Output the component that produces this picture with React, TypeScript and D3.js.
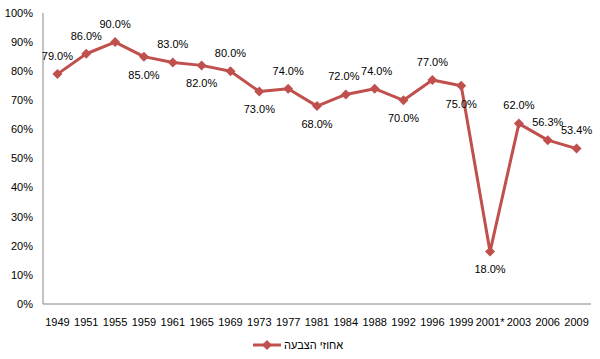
import React from "react";
import * as d3 from "d3";

const years = ["1949", "1951", "1955", "1959", "1961", "1965", "1969", "1973", "1977", "1981", "1984", "1988", "1992", "1996", "1999", "2001*", "2003", "2006", "2009"];
const turnout = [79.0, 86.0, 90.0, 85.0, 83.0, 82.0, 80.0, 73.0, 74.0, 68.0, 72.0, 74.0, 70.0, 77.0, 75.0, 18.0, 62.0, 56.3, 53.4];
// label above (1) or below (-1) the point
const labelSide = [1, 1, 1, -1, 1, -1, 1, -1, 1, -1, 1, 1, -1, 1, -1, -1, 1, 1, 1];
const yTicks = [0, 10, 20, 30, 40, 50, 60, 70, 80, 90, 100];
const seriesName = "אחוזי הצבעה";

const W = 600;
const H = 359;
const margin = { top: 13, right: 9, bottom: 55, left: 43 };
const color = "#C0504D";
const font = "'Liberation Sans', Arial, sans-serif";

const App = () => {
  const x = d3
    .scaleBand<string>()
    .domain(years)
    .range([margin.left, W - margin.right]);
  const y = d3
    .scaleLinear()
    .domain([0, 100])
    .range([H - margin.bottom, margin.top]);

  const cx = (i: number) => (x(years[i]) as number) + x.bandwidth() / 2;

  const line = d3
    .line<number>()
    .x((_, i) => cx(i))
    .y((d) => y(d));

  const r = 5;
  const diamond = `M0,${-r}L${r},0L0,${r}L${-r},0Z`;

  // nudge the two crowded labels (1984 / 1988) apart a little
  const nudge = (i: number) => (i === 10 ? -2 : i === 11 ? 2 : 0);

  return (
    <svg width={W} height={H} style={{ position: "absolute", left: 0, top: 0 }} fontFamily={font}>
      <rect width={W} height={H} fill="#fff" />
      {/* axes */}
      <line x1={margin.left} x2={margin.left} y1={margin.top} y2={y(0)} stroke="#868686" />
      <line x1={margin.left} x2={W - margin.right} y1={y(0)} y2={y(0)} stroke="#868686" />
      {yTicks.map((t) => (
        <text key={t} x={33} y={y(t)} dy="0.35em" textAnchor="end" fontSize={11} fill="#000">
          {t}%
        </text>
      ))}
      {years.map((yr, i) => (
        <text key={yr} x={cx(i)} y={y(0) + 18} dy="0.35em" textAnchor="middle" fontSize={11} fill="#000">
          {yr}
        </text>
      ))}
      <path d={line(turnout) as string} fill="none" stroke={color} strokeWidth={3} strokeLinejoin="round" />
      {turnout.map((v, i) => (
        <path key={i} d={diamond} transform={`translate(${cx(i)},${y(v)})`} fill={color} />
      ))}
      {turnout.map((v, i) => (
        <text
          key={"l" + i}
          x={cx(i) + nudge(i)}
          y={y(v) - labelSide[i] * 18}
          dy="0.35em"
          textAnchor="middle"
          fontSize={11}
          fill="#000"
        >
          {v.toFixed(1)}%
        </text>
      ))}
      {/* legend */}
      <g transform="translate(253,345)">
        <line x1={0} x2={28} y1={0} y2={0} stroke={color} strokeWidth={3} />
        <path d={diamond} transform="translate(14,0)" fill={color} />
        <text x={31} y={0} dy="0.35em" fontSize={11} fill="#000" direction="rtl" textAnchor="end" unicodeBidi="plaintext">
          {seriesName}
        </text>
      </g>
    </svg>
  );
};

export default App;
